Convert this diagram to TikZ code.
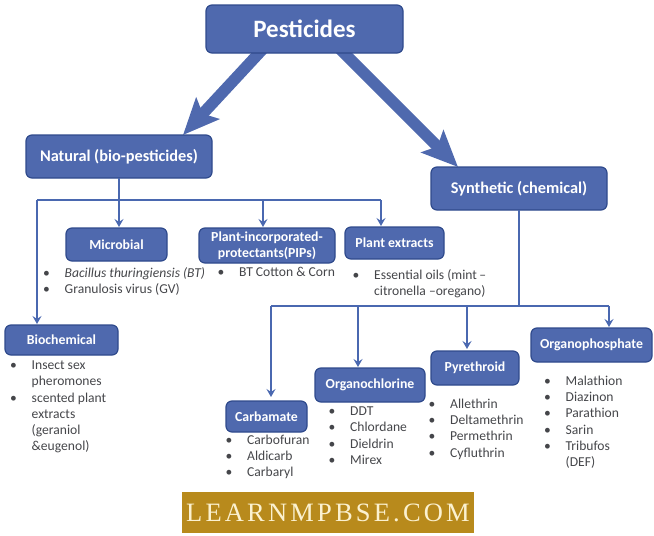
\documentclass[tikz,border=0pt]{standalone}
\usepackage{fontspec}
\setmainfont{Carlito}
\newfontfamily\bannerfont[LetterSpace=12]{Liberation Serif}
\usetikzlibrary{arrows.meta,backgrounds}
\definecolor{boxfill}{HTML}{4F69AE}
\definecolor{boxedge}{HTML}{2F4A8C}
\definecolor{linkblue}{HTML}{4A68B0}
\definecolor{listgray}{HTML}{45464A}
\definecolor{bannergold}{HTML}{B88A1C}
\definecolor{bannertext}{HTML}{FBF1D0}
\newcommand{\bul}[1]{\makebox[21.5pt][l]{\textbullet}#1\\}
\newcommand{\cont}[1]{\hspace*{21.5pt}#1\\}
\tikzset{x=1pt,y=-1pt,
    catbox/.style={draw=boxedge,line width=1.2pt,fill=boxfill,rounded corners=6pt,
        text=white,font=\bfseries\fontsize{13.8}{16.5}\selectfont,align=center,
        inner sep=0pt,outer sep=0pt},
    toplist/.style={anchor=north west,inner sep=0pt,align=left,text=listgray,
        font=\fontsize{13.6}{16.3}\selectfont},
    biglink/.style={draw=boxfill,line width=11.5pt,
        -{Stealth[length=36pt,width=31pt,inset=7pt,fill=boxfill]}},
    smalllink/.style={draw=linkblue,line width=1.5pt},
    smallarrow/.style={smalllink,-{Stealth[length=8pt,width=9pt,inset=3pt]}},
    }
\begin{document}
\begin{tikzpicture}
\useasboundingbox (0,0) rectangle (654,536);
% boxes
\node[catbox,minimum width=197pt,minimum height=48pt,font=\bfseries\fontsize{25}{29}\selectfont] (pesticides) at (304.5,29) {Pesticides};
\node[catbox,minimum width=186pt,minimum height=43pt,font=\bfseries\fontsize{16.3}{19}\selectfont] (natural) at (119,156.5) {Natural (bio-pesticides)};
\node[catbox,minimum width=176pt,minimum height=43pt,font=\bfseries\fontsize{16.3}{19}\selectfont] (synthetic) at (519,188.5) {Synthetic (chemical)};
\node[catbox,minimum width=101pt,minimum height=33pt] (microbial) at (116.5,244.5) {Microbial};
\node[catbox,minimum width=136pt,minimum height=35pt] (pips) at (267,245.5) {Plant-incorporated-\\protectants(PIPs)};
\node[catbox,minimum width=99pt,minimum height=32pt] (extracts) at (394.5,243) {Plant extracts};
\node[catbox,minimum width=113pt,minimum height=30pt] (biochemical) at (61.5,340) {Biochemical};
\node[catbox,minimum width=81pt,minimum height=31pt] (carbamate) at (266.5,416.5) {Carbamate};
\node[catbox,minimum width=110pt,minimum height=34pt] (organochlorine) at (370,385) {Organochlorine};
\node[catbox,minimum width=88pt,minimum height=34pt] (pyrethroid) at (475,368) {Pyrethroid};
\node[catbox,minimum width=121pt,minimum height=34pt] (organophosphate) at (591.5,345) {Organophosphate};
% lists
\node[toplist] (microbiallist) at (43,267.5) {\bul{\textit{Bacillus thuringiensis (BT)}}\bul{Granulosis virus (GV)}};
\node[toplist] (pipslist) at (217.5,267.5) {\bul{BT Cotton \& Corn}};
\node[toplist] (extractslist) at (352.5,269.5) {\bul{Essential oils (mint\,--}\cont{citronella --oregano)}};
\node[toplist] (biochemicallist) at (10,360.5) {\bul{Insect sex}\cont{pheromones}\bul{scented plant}\cont{extracts}\cont{(geraniol}\cont{\&eugenol)}};
\node[toplist] (carbamatelist) at (225.5,434.5) {\bul{Carbofuran}\bul{Aldicarb}\bul{Carbaryl}};
\node[toplist] (organochlorinelist) at (328.5,406.5) {\bul{DDT}\bul{Chlordane}\bul{Dieldrin}\bul{Mirex}};
\node[toplist] (pyrethroidlist) at (428.5,398.5) {\bul{Allethrin}\bul{Deltamethrin}\bul{Permethrin}\bul{Cyfluthrin}};
\node[toplist] (organophosphatelist) at (544,375.5) {\bul{Malathion}\bul{Diazinon}\bul{Parathion}\bul{Sarin}\bul{Tribufos}\cont{(DEF)}};
% big arrows
\begin{scope}[on background layer]
\draw[biglink] ([xshift=59.6pt,yshift=7pt]pesticides.south west) -- ([xshift=157pt]natural.north west);
\draw[biglink] ([xshift=131pt,yshift=7pt]pesticides.south west) -- ([xshift=27pt]synthetic.north west);
\end{scope}
% natural branch
\coordinate (biochemicalbus) at (37,200);
\coordinate (pipsbus) at (263,200);
\coordinate (extractsbus) at (381,200);
\draw[smallarrow] (natural.south) -- (119,227);
\draw[smalllink] (biochemicalbus) -- (extractsbus);
\draw[smallarrow] (biochemicalbus) -- (37,324);
\draw[smallarrow] (pipsbus) -- (263,227);
\draw[smallarrow] (extractsbus) -- (381,226);
% synthetic branch
\coordinate (carbamatebus) at (271,306);
\coordinate (organochlorinebus) at (358,306);
\coordinate (pyrethroidbus) at (467,306);
\coordinate (organophosphatebus) at (609,306);
\draw[smalllink] (synthetic.south) -- (synthetic.south |- carbamatebus);
\draw[smalllink] (carbamatebus) -- (organophosphatebus);
\draw[smallarrow] (carbamatebus) -- (271,397);
\draw[smallarrow] (organochlorinebus) -- (358,367);
\draw[smallarrow] (pyrethroidbus) -- (467,349);
\draw[smallarrow] (organophosphatebus) -- (609,327);
% banner
\node[fill=bannergold,minimum width=292pt,minimum height=41pt,inner sep=0pt,text=bannertext,font=\bannerfont\fontsize{26.5}{30}\selectfont] (banner) at (328,512.5) {LEARNMPBSE.COM};
\end{tikzpicture}
\end{document}
